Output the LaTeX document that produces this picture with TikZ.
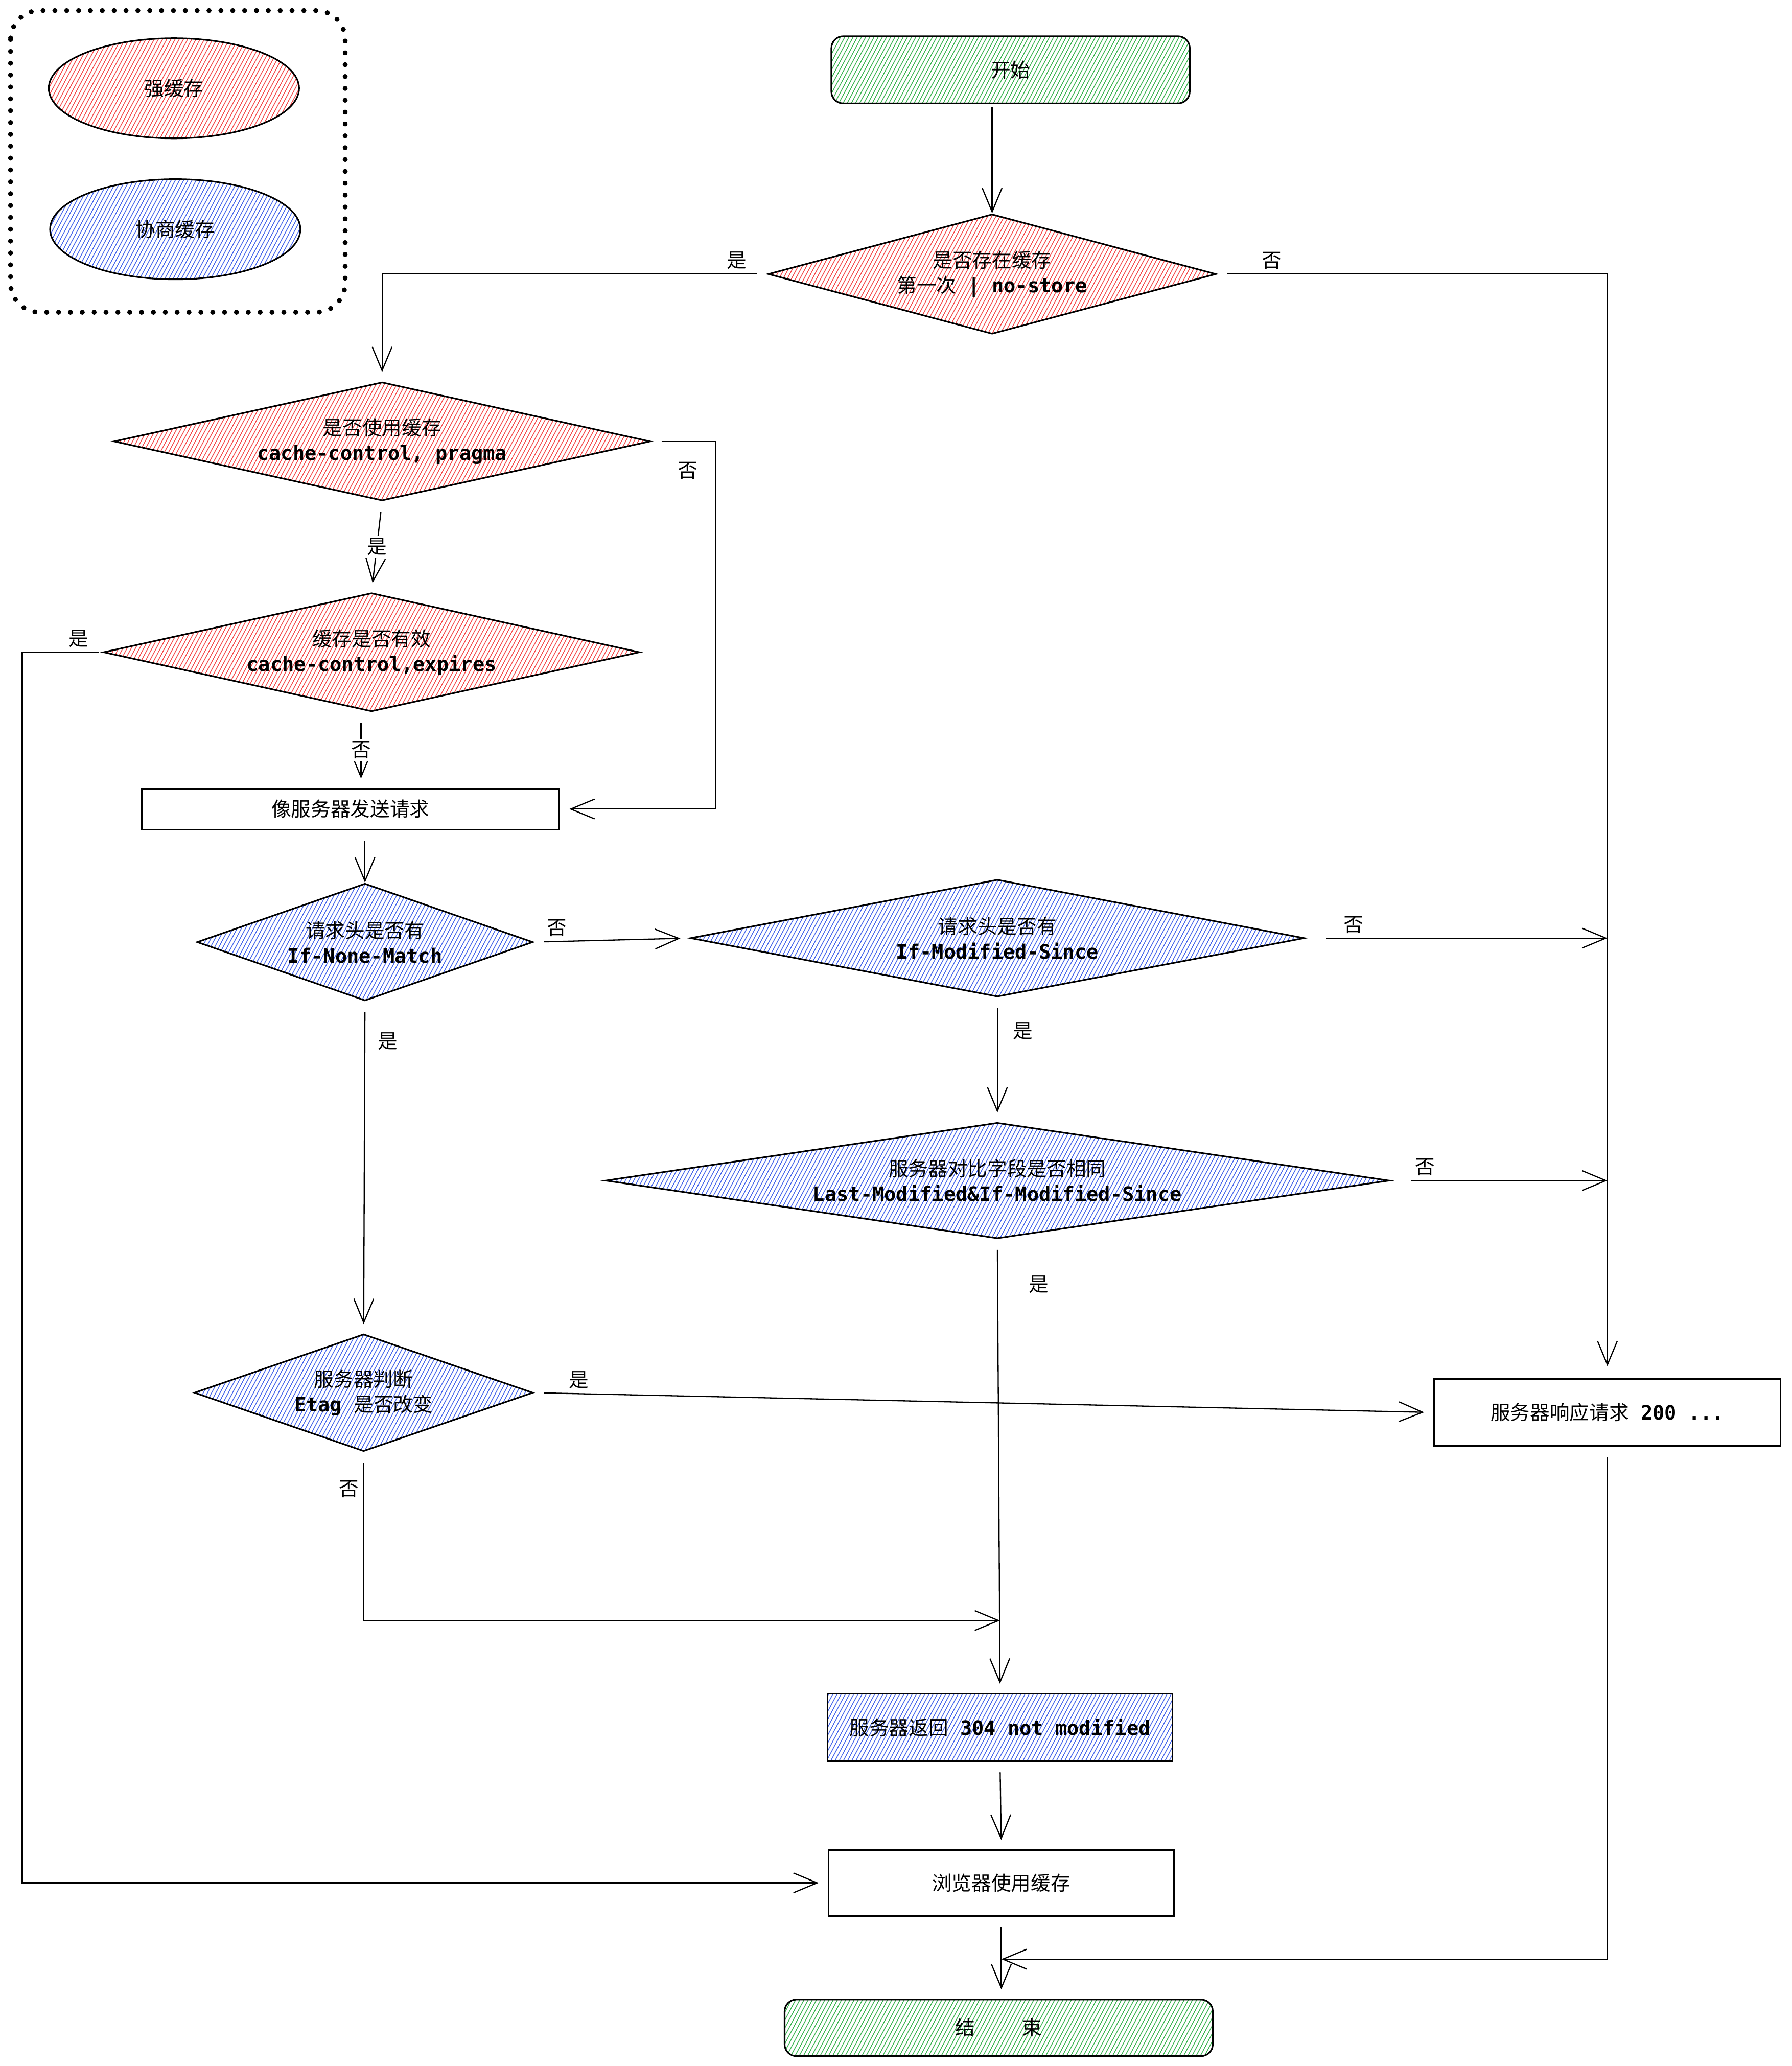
\documentclass[tikz,border=0pt]{standalone}
\usepackage{fontspec}
\setmainfont{Noto Sans CJK SC}
\setmonofont{DejaVu Sans Mono}
\usetikzlibrary{shapes.geometric, arrows.meta, patterns.meta, calc}

\definecolor{strongred}{RGB}{245, 70, 70}
\definecolor{negoblue}{RGB}{66, 99, 235}
\definecolor{termgreen}{RGB}{55, 178, 77}
\newcommand{\codetxt}[1]{{\ttfamily\bfseries #1}}

\begin{document}
\begin{tikzpicture}[x=1pt, y=-1pt,
    every node/.style={font=\fontsize{15}{19}\selectfont, align=center},
    hatch/.style={pattern={Lines[angle=62, distance=2.8pt, line width=0.6pt]}, pattern color=#1},
    decision/.style={diamond, draw, line width=1.2pt, inner sep=0pt},
    process/.style={rectangle, draw, line width=1.2pt},
    terminal/.style={rectangle, rounded corners=9pt, draw, line width=1.2pt, hatch=termgreen},
    legend/.style={ellipse, draw, line width=1.2pt, minimum width=190pt, minimum height=76pt},
    flow/.style={-{Straight Barb[length=18pt, width=15pt]}, line width=0.9pt, shorten <=8pt, shorten >=7pt},
    tag/.style={inner sep=2pt}]
    \useasboundingbox (0,0) rectangle (1360,1568);

    % Legend
    \draw[line width=3.8pt, line cap=round, dash pattern=on 0pt off 9pt, rounded corners=22pt] (8,8) rectangle (262,237);
    \node[legend, hatch=strongred] (lgstrong) at (132,67) {强缓存};
    \node[legend, hatch=negoblue] (lgnego) at (133,174) {协商缓存};

    % Strong cache
    \node[terminal, minimum width=272pt, minimum height=51pt] (start) at (767,53) {开始};
    \node[decision, hatch=strongred, minimum width=340pt, minimum height=91pt, shape aspect=3.74] (dexist) at (753,208) {是否存在缓存\\第一次\codetxt{ | no-store}};
    \node[decision, hatch=strongred, minimum width=407pt, minimum height=90pt, shape aspect=4.52] (duse) at (290,335) {是否使用缓存\\\codetxt{cache-control, pragma}};
    \node[decision, hatch=strongred, minimum width=407pt, minimum height=90pt, shape aspect=4.52] (dvalid) at (282,495) {缓存是否有效\\\codetxt{cache-control,expires}};
    \node[process, minimum width=317pt, minimum height=31pt] (reqsend) at (266,614) {像服务器发送请求};

    % Negotiated cache
    \node[decision, hatch=negoblue, minimum width=255pt, minimum height=89pt, shape aspect=2.87] (detag) at (277,715) {请求头是否有\\\codetxt{If-None-Match}};
    \node[decision, hatch=negoblue, minimum width=466pt, minimum height=89pt, shape aspect=5.24] (dmod) at (757,712) {请求头是否有\\\codetxt{If-Modified-Since}};
    \node[decision, hatch=negoblue, minimum width=595pt, minimum height=88pt, shape aspect=6.76] (dcmp) at (757,896) {服务器对比字段是否相同\\\codetxt{Last-Modified\&If-Modified-Since}};
    \node[decision, hatch=negoblue, minimum width=257pt, minimum height=89pt, shape aspect=2.89] (djudge) at (276,1057) {服务器判断\\\codetxt{Etag }是否改变};

    % Results
    \node[process, minimum width=263pt, minimum height=51pt] (resp200) at (1220,1072) {服务器响应请求\codetxt{  200 ...}};
    \node[process, hatch=negoblue, minimum width=262pt, minimum height=51pt] (ret304) at (759,1311) {服务器返回\codetxt{ 304 not modified}};
    \node[process, minimum width=262pt, minimum height=50pt] (usecache) at (760,1429) {浏览器使用缓存};
    \node[terminal, minimum width=325pt, minimum height=43pt] (finish) at (758,1539) {结\hspace{2.4em}束};

    \coordinate (mergea) at ($(ret304.north)+(0,-55)$);
    \coordinate (mergeb) at ($(usecache.south |- finish.north)+(0,-30)$);

    % Flow
    \draw[flow, shorten <=2pt, shorten >=0pt] (dexist.north |- start.south) -- (dexist.north);
    \draw[flow] (dexist.west) -| node[pos=0.04, above] {是} (duse.north);
    \draw[flow, shorten >=9pt] (dexist.east) -| node[pos=0.07, above] {否} (resp200.north);
    \draw[flow] (duse.east) -- ++(49,0) |- node[pos=0.04, left, xshift=-10pt] {否} (reqsend.east);
    \draw[flow] (duse.south) -- node[fill=white, tag] {是} (dvalid.north);
    \draw[flow, shorten <=3pt] (dvalid.west) -- node[pos=0.3, above] {是} ++(-61,0) |- (usecache.west);
    \draw[flow] ([xshift=-8pt]dvalid.south) -- node[fill=white, tag] {否} ([xshift=-8pt]dvalid.south |- reqsend.north);
    \draw[flow, shorten >=0pt] (reqsend.south -| detag.north) -- (detag.north);
    \draw[flow] (detag.east) -- node[pos=0.15, above] {否} (dmod.west);
    \draw[flow, shorten <=16pt, shorten >=0pt] (dmod.east) -- node[pos=0.16, above] {否} (dmod.east -| resp200.north);
    \draw[flow] (dmod.south) -- node[pos=0.27, right, xshift=8pt] {是} (dcmp.north);
    \draw[flow, shorten <=16pt, shorten >=0pt] (dcmp.east) -- node[pos=0.16, above] {否} (dcmp.east -| resp200.north);
    \draw[flow] (dcmp.south) -- node[pos=0.1, right, xshift=20pt] {是} (ret304.north);
    \draw[flow] (detag.south) -- node[pos=0.12, right, xshift=6pt] {是} (djudge.north);
    \draw[flow] (djudge.east) -- node[pos=0.05, above] {是} (resp200.west);
    \draw[flow, shorten >=0pt] (djudge.south) |- node[pos=0.11, left] {否} (mergea);
    \draw[flow] (ret304.south) -- (usecache.north);
    \draw[flow] (usecache.south) -- (usecache.south |- finish.north);
    \draw[flow, shorten >=0pt] (resp200.south) |- (mergeb);
\end{tikzpicture}
\end{document}
